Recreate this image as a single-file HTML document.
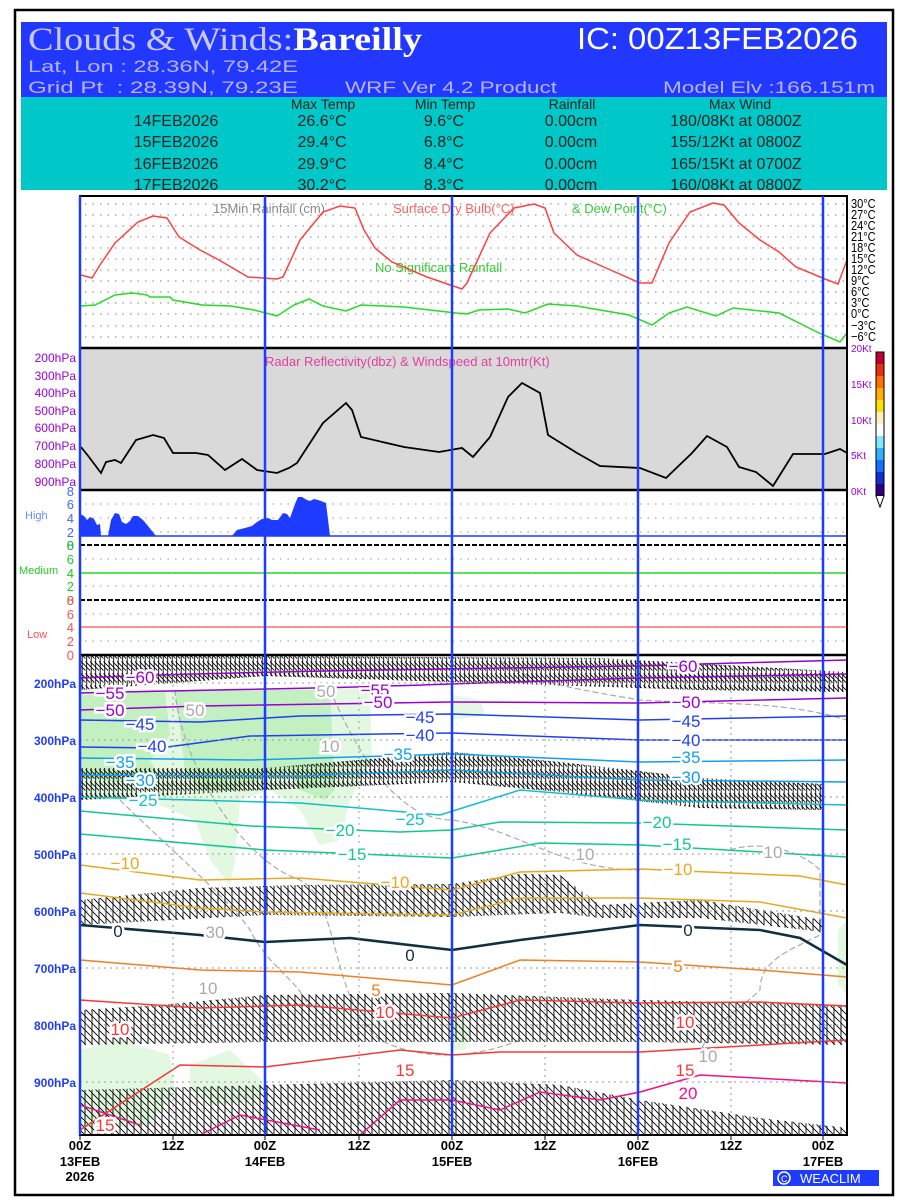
<!DOCTYPE html>
<html><head><meta charset="utf-8"><style>
html,body{margin:0;padding:0;background:#fff;}
svg{display:block;font-family:"Liberation Sans",sans-serif;}
</style></head><body>
<svg width="900" height="1200" viewBox="0 0 900 1200" xmlns="http://www.w3.org/2000/svg">
<defs>
<pattern id="barb" patternUnits="userSpaceOnUse" width="4.5" height="12">
<path d="M1.2,0 V12 M-6,0 L6,12 M-1.5,0 L10.5,12" stroke="#000" stroke-width="0.9" fill="none"/>
</pattern>
<pattern id="barb2" patternUnits="userSpaceOnUse" width="7" height="14">
<path d="M1,0 V14 M-7,0 L7,14 M0,0 L14,14" stroke="#000" stroke-width="0.9" fill="none"/>
</pattern>
<clipPath id="pc"><rect x="80" y="655" width="767" height="480"/></clipPath>
</defs>
<rect x="15" y="10" width="878" height="1185" fill="#fff" stroke="#000" stroke-width="2.5"/>
<rect x="21" y="22" width="866" height="75" fill="#2238ff"/>
<text x="28" y="50" font-family="Liberation Serif,serif" font-size="33" fill="#c8c8ff" textLength="394" lengthAdjust="spacingAndGlyphs">Clouds &amp; Winds:<tspan fill="#fff" font-weight="bold">Bareilly</tspan></text>
<text x="577" y="49" font-size="31" fill="#fff" textLength="281" lengthAdjust="spacingAndGlyphs">IC: 00Z13FEB2026</text>
<text x="28" y="72" font-size="17" fill="#b4b4ff" textLength="270" lengthAdjust="spacingAndGlyphs">Lat, Lon : 28.36N, 79.42E</text>
<text x="28" y="93" font-size="17" fill="#b4b4ff" xml:space="preserve" textLength="270" lengthAdjust="spacingAndGlyphs">Grid Pt  : 28.39N, 79.23E</text>
<text x="345" y="93" font-size="17" fill="#b4b4ff" textLength="212" lengthAdjust="spacingAndGlyphs">WRF Ver 4.2 Product</text>
<text x="663" y="93" font-size="17" fill="#b4b4ff" textLength="212" lengthAdjust="spacingAndGlyphs">Model Elv :166.151m</text>
<rect x="21" y="97" width="866" height="93" fill="#00c8c8"/>
<g font-size="14" fill="#222" text-anchor="middle">
<text x="323" y="109">Max Temp</text><text x="445" y="109">Min Temp</text><text x="572" y="109">Rainfall</text><text x="740" y="109">Max Wind</text>
</g>
<g font-size="16" fill="#222" text-anchor="middle">
<text x="176" y="126">14FEB2026</text><text x="322" y="126">26.6°C</text><text x="444" y="126">9.6°C</text><text x="571" y="126">0.00cm</text><text x="736" y="126">180/08Kt at 0800Z</text>
<text x="176" y="147">15FEB2026</text><text x="322" y="147">29.4°C</text><text x="444" y="147">6.8°C</text><text x="571" y="147">0.00cm</text><text x="736" y="147">155/12Kt at 0800Z</text>
<text x="176" y="169">16FEB2026</text><text x="322" y="169">29.9°C</text><text x="444" y="169">8.4°C</text><text x="571" y="169">0.00cm</text><text x="736" y="169">165/15Kt at 0700Z</text>
<text x="176" y="190">17FEB2026</text><text x="322" y="190">30.2°C</text><text x="444" y="190">8.3°C</text><text x="571" y="190">0.00cm</text><text x="736" y="190">160/08Kt at 0800Z</text>
</g>

<g stroke="#999" stroke-dasharray="1.5,6" stroke-width="1.3">
<path d="M85,204H845M85,215H845M85,226H845M85,237H845M85,248H845M85,259H845M85,270H845M85,281H845M85,292H845M85,303H845M85,314H845M85,326H845M85,337H845"/>
</g>
<g font-size="13" fill="#000" transform="translate(851,0) scale(0.85,1)">
<text x="0" y="208">30°C</text><text x="0" y="219">27°C</text><text x="0" y="230">24°C</text><text x="0" y="241">21°C</text><text x="0" y="252">18°C</text><text x="0" y="263">15°C</text><text x="0" y="274">12°C</text><text x="0" y="285">9°C</text><text x="0" y="296">6°C</text><text x="0" y="307">3°C</text><text x="0" y="318">0°C</text><text x="0" y="330">−3°C</text><text x="0" y="341">−6°C</text>
</g>
<text x="213" y="213" font-size="13" fill="#888">15Min Rainfall (cm)</text>
<text x="393" y="213" font-size="13" fill="#ff6060">Surface Dry Bulb(°C)</text>
<text x="572" y="213" font-size="13" fill="#33cc33">&amp; Dew Point(°C)</text>
<text x="375" y="272" font-size="13" fill="#33cc33">No Significant Rainfall</text>
<polyline fill="none" stroke="#ff4040" stroke-width="1.5" points="81,275 92,278 100,265 115,243 138,222 153,216 167,218 179,237 200,250 219,260 248,277 277,279 283,277 300,240 323,212 340,206 355,208 364,230 375,248 392,262 427,277 462,289 467,283 490,233 514,208 534,204 545,208 554,233 577,255 606,268 640,283 652,283 669,243 690,212 713,203 724,205 739,223 760,240 779,252 796,267 825,279 838,284 847,260"/>
<polyline fill="none" stroke="#22dd22" stroke-width="1.5" points="81,306 95,305 115,295 133,293 147,295 150,297 170,297 173,300 202,305 231,306 254,310 277,316 294,305 309,299 323,306 346,311 361,305 404,307 456,313 467,314 479,310 508,309 525,313 548,304 577,306 629,315 652,325 669,313 687,307 716,316 733,308 779,313 819,333 840,342 847,333"/>

<rect x="80" y="348" width="767" height="142" fill="#d9d9d9"/>
<text x="265" y="366" font-size="13" fill="#e040a0">Radar Reflectivity(dbz) &amp; Windspeed at 10mtr(Kt)</text>
<polyline fill="none" stroke="#000" stroke-width="1.8" points="81,447 89,457 101,473 106,462 115,460 121,463 136,440 153,435 164,438 173,453 196,453 208,455 225,470 242,459 257,470 277,473 289,468 297,463 323,423 346,403 352,410 361,437 404,447 439,452 462,448 473,457 490,437 508,397 522,383 540,393 548,435 577,453 600,466 640,468 666,478 692,453 707,436 727,447 739,467 756,472 773,486 793,454 825,454 840,449 847,453"/>
<g font-size="12" fill="#9900dd" text-anchor="end">
<text x="76" y="362">200hPa</text><text x="76" y="380">300hPa</text><text x="76" y="397">400hPa</text><text x="76" y="415">500hPa</text><text x="76" y="432">600hPa</text><text x="76" y="450">700hPa</text><text x="76" y="468">800hPa</text><text x="76" y="486">900hPa</text>
</g>
<g font-size="10" fill="#9900dd">
<text x="851" y="352">20Kt</text><text x="851" y="388">15Kt</text><text x="851" y="424">10Kt</text><text x="851" y="459">5Kt</text><text x="851" y="495">0Kt</text>
</g>
<g>
<rect x="876" y="352" width="8" height="12" fill="#c00030"/><rect x="876" y="364" width="8" height="12" fill="#e83010"/><rect x="876" y="376" width="8" height="12" fill="#ff7000"/><rect x="876" y="388" width="8" height="12" fill="#ffb000"/><rect x="876" y="400" width="8" height="12" fill="#ffe000"/><rect x="876" y="412" width="8" height="12" fill="#fff0c0"/><rect x="876" y="424" width="8" height="12" fill="#fff"/><rect x="876" y="436" width="8" height="12" fill="#80e8ff"/><rect x="876" y="448" width="8" height="12" fill="#30b0ff"/><rect x="876" y="460" width="8" height="12" fill="#1070ff"/><rect x="876" y="472" width="8" height="12" fill="#1030d0"/><rect x="876" y="484" width="8" height="12" fill="#300080"/>
<rect x="876" y="352" width="8" height="144" fill="none" stroke="#000" stroke-width="1"/>
<path d="M876,496 L880,507 L884,496" fill="#fff" stroke="#000"/>
</g>

<g stroke="#aaa" stroke-dasharray="1.5,6" stroke-width="1.3">
<path d="M85,504H845M85,518H845M85,532H845M85,559H845M85,573H845M85,586H845M85,614H845M85,627H845M85,641H845"/>
</g>
<polygon fill="#1e3cff" points="80,536 80,514 84,516 87,520 90,517 94,519 97,525 100,524 101,536 108,536 111,520 115,513 119,514 122,522 126,524 130,521 133,516 138,516 143,520 148,526 152,531 156,536 232,536 237,530 245,528 252,526 257,522 262,519 268,518 272,520 278,520 283,513 287,514 290,518 295,504 298,497 302,497 307,500 310,501 314,499 318,500 321,501 326,503 330,536"/>
<line x1="80" y1="536" x2="847" y2="536" stroke="#1e3cff" stroke-width="1.5"/>
<line x1="80" y1="573" x2="847" y2="573" stroke="#22dd22" stroke-width="1.5"/>
<line x1="80" y1="627" x2="847" y2="627" stroke="#ff5050" stroke-width="1.2"/>
<line x1="80" y1="545" x2="847" y2="545" stroke="#000" stroke-width="2" stroke-dasharray="5,2"/>
<line x1="80" y1="600" x2="847" y2="600" stroke="#000" stroke-width="2" stroke-dasharray="5,2"/>
<line x1="80" y1="490" x2="847" y2="490" stroke="#000" stroke-width="2.5"/>
<line x1="80" y1="348" x2="847" y2="348" stroke="#000" stroke-width="2.5"/>
<g font-size="13" text-anchor="end">
<g fill="#4466ff"><text x="74" y="496">8</text><text x="74" y="509">6</text><text x="74" y="523">4</text><text x="74" y="537">2</text><text x="74" y="550">0</text></g>
<g fill="#22cc22"><text x="74" y="550">8</text><text x="74" y="564">6</text><text x="74" y="578">4</text><text x="74" y="591">2</text><text x="74" y="605">0</text></g>
<g fill="#ff5050"><text x="74" y="605">8</text><text x="74" y="619">6</text><text x="74" y="632">4</text><text x="74" y="646">2</text><text x="74" y="660">0</text></g>
</g>
<text x="25" y="519" font-size="11" fill="#6688ff">High</text>
<text x="19" y="574" font-size="11" fill="#22cc22">Medium</text>
<text x="27" y="638" font-size="11" fill="#ff5050">Low</text>

<g clip-path="url(#pc)">
<path fill="#e2f8e0" d="M80,690 L370,688 L372,760 L350,800 L340,840 L320,845 L300,810 L270,790 L240,800 L235,860 L230,885 L210,860 L195,820 L160,805 L120,800 L80,800 Z"/>
<path fill="#c2f0c0" d="M80,695 L165,692 L170,735 L150,760 L160,778 L120,782 L80,778 Z M175,690 L330,690 L335,790 L325,800 L300,790 L290,770 L230,790 L200,790 L185,770 Z"/>
<path fill="#e2f8e0" d="M80,1050 L120,1040 L170,1055 L175,1090 L150,1125 L80,1130 Z M190,1065 L230,1050 L262,1080 L260,1100 L215,1105 L190,1090 Z M452,695 L480,700 L485,715 L452,720 Z M838,930 L847,920 L847,995 L838,985 Z M452,1010 L470,1030 L465,1050 L452,1050 Z"/>
<g fill="none" stroke="#aaa" stroke-width="1.2" stroke-dasharray="6,3">
<path d="M175,690 C180,760 240,860 300,880 C340,900 330,1000 380,1040 C420,1060 470,1060 520,1040"/>
<path d="M120,800 C160,840 230,900 250,930 C270,970 300,980 310,1010"/>
<path d="M330,690 C360,760 400,820 452,820 C520,830 560,870 640,870"/>
<path d="M730,850 C760,840 800,850 820,870 L820,935 C790,950 760,960 760,990 C740,1010 700,1030 700,1060"/>
<path d="M500,660 C520,680 580,690 640,700 C720,705 780,700 847,720"/>
</g>
<g fill="url(#barb)">
<polygon points="80,655 600,658 847,672 847,692 700,690 452,682 265,676 80,690"/>
<polygon points="80,768 265,768 452,752 560,762 700,778 823,784 823,810 700,808 560,792 452,782 265,790 80,800"/>
</g>
<g fill="url(#barb2)">
<polygon points="80,900 200,888 300,885 452,884 520,874 560,875 600,905 700,900 823,920 823,932 700,918 600,918 560,913 452,917 265,915 80,925"/>
<polygon points="80,1010 160,1005 265,995 452,993 640,1000 847,1005 847,1045 640,1042 452,1042 265,1042 80,1045"/>
<polygon points="80,1090 265,1085 452,1080 560,1085 640,1100 760,1118 847,1128 847,1135 80,1135"/>
</g>
<g fill="none" stroke-width="1.5">
<path stroke="#9a00d0" d="M80,678 C200,672 500,668 640,666 L700,664 847,660"/>
<path stroke="#9a00d0" d="M80,693 C200,690 350,688 450,684 L640,678 847,674"/>
<path stroke="#9a00d0" d="M80,710 L200,706 L450,702 L640,703 L847,698"/>
<path stroke="#2040f0" d="M80,720 L200,722 L300,716 L452,714 L640,720 L847,716"/>
<path stroke="#2040f0" d="M80,747 L160,748 L250,736 L452,733 L640,740 L847,740"/>
<path stroke="#10a0f0" d="M80,758 L250,760 L452,754 L640,762 L847,760"/>
<path stroke="#10a0f0" d="M80,775 L300,776 L452,770 L640,780 L847,782"/>
<path stroke="#10c0c8" d="M80,797 L300,803 L440,815 L520,790 L640,800 L847,805"/>
<path stroke="#10c890" d="M80,811 L250,826 L400,832 L452,830 L500,822 L640,823 L847,830"/>
<path stroke="#10c890" d="M80,834 L265,850 L452,858 L500,850 L540,843 L640,845 L847,857"/>
<path stroke="#e8a820" d="M80,865 L200,880 L300,878 L452,890 L520,872 L640,869 L800,876 L847,885"/>
<path stroke="#e8a820" d="M80,893 L200,908 L265,912 L452,915 L520,898 L640,898 L760,902 L847,918"/>
<path stroke="#103040" stroke-width="2.6" d="M80,925 L200,935 L265,942 L350,938 L452,950 L520,940 L640,925 L760,930 L800,938 L847,965"/>
<path stroke="#f08020" d="M80,960 L200,970 L300,972 L452,985 L520,960 L640,962 L760,970 L847,977"/>
<path stroke="#f83838" d="M80,1000 L200,1008 L300,1005 L452,1018 L520,1000 L640,1003 L760,1002 L847,1006"/>
<path stroke="#f83838" d="M80,1130 L180,1065 L265,1067 L400,1050 L452,1055 L500,1052 L640,1052 L847,1040"/>
<path stroke="#f0108a" d="M80,1105 L140,1125 M200,1135 L240,1115 L320,1130 M360,1135 L400,1100 L452,1100 L500,1110 L540,1092 L600,1100 L640,1092 L700,1075 L847,1083"/>
</g>
<g stroke="#999" stroke-dasharray="2,4" stroke-width="1">
<path d="M80,683H847M80,740H847M80,797H847M80,854H847M80,911H847M80,968H847M80,1025H847M80,1082H847M173,655V1135M359,655V1135M545,655V1135M731,655V1135"/>
</g>
<g font-size="17" text-anchor="middle" stroke="#fff" stroke-width="5" paint-order="stroke">
<g fill="#9a00d0"><text x="140" y="683">−60</text><text x="110" y="699">−55</text><text x="110" y="716">−50</text><text x="375" y="696">−55</text><text x="378" y="708">−50</text><text x="683" y="672">−60</text><text x="686" y="708">−50</text></g>
<g fill="#2040f0"><text x="140" y="730">−45</text><text x="152" y="752">−40</text><text x="420" y="723">−45</text><text x="420" y="741">−40</text><text x="686" y="727">−45</text><text x="686" y="746">−40</text></g>
<g fill="#10a0f0"><text x="120" y="768">−35</text><text x="140" y="786">−30</text><text x="398" y="760">−35</text><text x="686" y="763">−35</text><text x="686" y="783">−30</text></g>
<g fill="#10c0c8"><text x="143" y="806">−25</text><text x="410" y="825">−25</text></g>
<g fill="#10c890"><text x="340" y="836">−20</text><text x="352" y="860">−15</text><text x="657" y="828">−20</text><text x="677" y="850">−15</text></g>
<g fill="#e8a820"><text x="125" y="869">−10</text><text x="395" y="888">−10</text><text x="678" y="875">−10</text></g>
<g fill="#103040"><text x="118" y="937">0</text><text x="410" y="961">0</text><text x="688" y="936">0</text></g>
<g fill="#f08020"><text x="376" y="996">5</text><text x="678" y="972">5</text></g>
<g fill="#f83838"><text x="120" y="1035">10</text><text x="385" y="1018">10</text><text x="685" y="1028">10</text><text x="405" y="1076">15</text><text x="685" y="1076">15</text><text x="105" y="1131">15</text></g>
<g fill="#f0108a"><text x="688" y="1099">20</text></g>
<g fill="#aaa"><text x="195" y="716">50</text><text x="326" y="697">50</text><text x="330" y="752">10</text><text x="215" y="938">30</text><text x="208" y="994">10</text><text x="585" y="860">10</text><text x="773" y="858">10</text><text x="708" y="1062">10</text></g>
</g>
</g>
<g font-size="12" fill="#1e3cff" font-weight="bold" text-anchor="end">
<text x="76" y="688">200hPa</text><text x="76" y="745">300hPa</text><text x="76" y="802">400hPa</text><text x="76" y="859">500hPa</text><text x="76" y="916">600hPa</text><text x="76" y="973">700hPa</text><text x="76" y="1030">800hPa</text><text x="76" y="1087">900hPa</text>
</g>
<line x1="80" y1="655" x2="847" y2="655" stroke="#000" stroke-width="2.5"/>
<rect x="80" y="196" width="767" height="939" fill="none" stroke="#000" stroke-width="2"/>
<g stroke="#1e3cff" stroke-width="2.5">
<line x1="80" y1="196" x2="80" y2="1135"/><line x1="265" y1="196" x2="265" y2="1135"/><line x1="452" y1="196" x2="452" y2="1135"/><line x1="638" y1="196" x2="638" y2="1135"/><line x1="823" y1="196" x2="823" y2="1135"/>
</g>
<g stroke="#000" stroke-width="1"><path d="M173,1135v5M359,1135v5M545,1135v5M731,1135v5M80,1135v5M265,1135v5M452,1135v5M638,1135v5M823,1135v5"/></g>
<g font-size="13" font-weight="bold" fill="#000" text-anchor="middle">
<text x="80" y="1150">00Z</text><text x="80" y="1166">13FEB</text><text x="80" y="1181">2026</text>
<text x="173" y="1150">12Z</text>
<text x="265" y="1150">00Z</text><text x="265" y="1166">14FEB</text>
<text x="359" y="1150">12Z</text>
<text x="452" y="1150">00Z</text><text x="452" y="1166">15FEB</text>
<text x="545" y="1150">12Z</text>
<text x="638" y="1150">00Z</text><text x="638" y="1166">16FEB</text>
<text x="731" y="1150">12Z</text>
<text x="823" y="1150">00Z</text><text x="823" y="1166">17FEB</text>
</g>
<rect x="773" y="1170" width="106" height="16" fill="#1e3cff"/>
<circle cx="784" cy="1178" r="6" fill="none" stroke="#fff" stroke-width="1.5"/>
<text x="781" y="1182" font-size="9" fill="#fff">C</text>
<text x="800" y="1183" font-size="13" fill="#fff">WEACLIM</text>
</svg>
</body></html>
